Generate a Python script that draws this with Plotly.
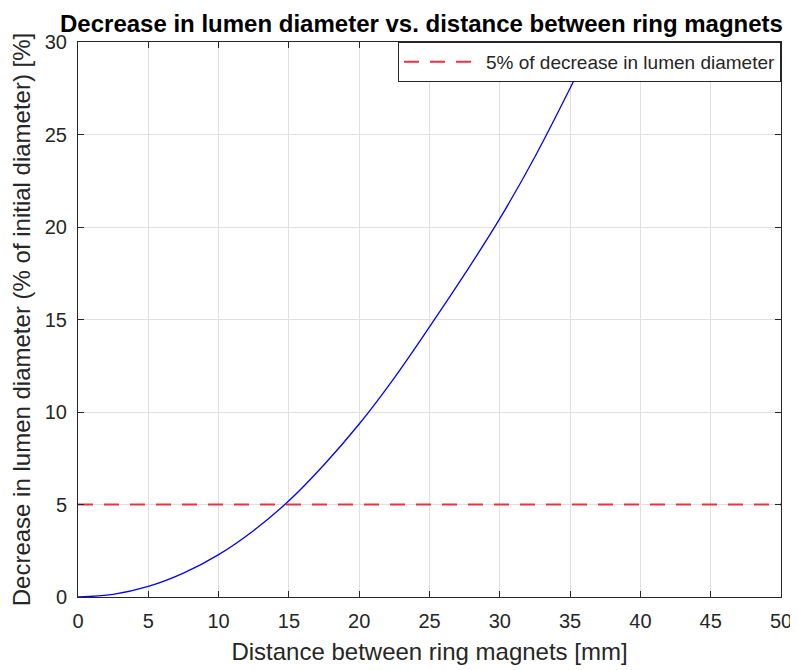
import plotly.graph_objects as go

# Curve values
distance_mm = [0, 2.5, 5, 7.5, 10, 12.5, 15, 17.5, 20, 22.5, 25, 27.5, 30, 32.5, 35, 37.5]
decrease_pct = [0, 0.14, 0.57, 1.29, 2.29, 3.6, 5.2, 7.15, 9.35, 11.85, 14.6, 17.45, 20.45, 23.8, 27.5, 31.4]

threshold_x = [0, 50]
threshold_y = [5, 5]

x_ticks = [0, 5, 10, 15, 20, 25, 30, 35, 40, 45, 50]
y_ticks = [0, 5, 10, 15, 20, 25, 30]

FONT = "Liberation Sans, Arial, sans-serif"
AX = "#262626"

fig = go.Figure()
fig.add_trace(go.Scatter(
    x=distance_mm, y=decrease_pct, mode="lines", line=dict(color="#0000ff", width=1.3),
    showlegend=False, line_shape="spline"))
fig.add_trace(go.Scatter(
    x=threshold_x, y=threshold_y, mode="lines", name="5% of decrease in lumen diameter",
    line=dict(color="#f03040", width=2, dash="15px,11px")))

axis_common = dict(
    showgrid=True, gridcolor="#e0e0e0", gridwidth=1,
    showline=True, linecolor=AX, linewidth=1, mirror="ticks",
    ticks="inside", ticklen=6, tickcolor=AX, automargin=False,
    tickfont=dict(family=FONT, size=20, color=AX), zeroline=False,
)

fig.update_layout(
    width=790, height=662,
    margin=dict(l=70, r=17, t=34, b=73, autoexpand=False),
    paper_bgcolor="white", plot_bgcolor="white",
    title=dict(text="<b>Decrease in lumen diameter vs. distance between ring magnets</b>",
               font=dict(family=FONT, size=24, color="black"), automargin=False,
               x=0.5234, xref="container", xanchor="center", y=0.9766, yref="container", yanchor="middle"),
    xaxis=dict(range=[0, 50], tickvals=x_ticks, **axis_common, ticklabelstandoff=6,
               title=dict(text="Distance between ring magnets [mm]", standoff=12,
                          font=dict(family=FONT, size=24, color=AX))),
    yaxis=dict(range=[0, 30], tickvals=y_ticks, **axis_common, ticklabelstandoff=6,
               title=dict(text="Decrease in lumen diameter (% of initial diameter) [%]", standoff=7,
                          font=dict(family=FONT, size=24, color=AX))),
    legend=dict(x=1, y=1, xanchor="right", yanchor="top", bgcolor="white",
                bordercolor=AX, borderwidth=1, itemwidth=77,
                font=dict(family=FONT, size=19, color=AX)),
)

fig.write_html("out.html")
